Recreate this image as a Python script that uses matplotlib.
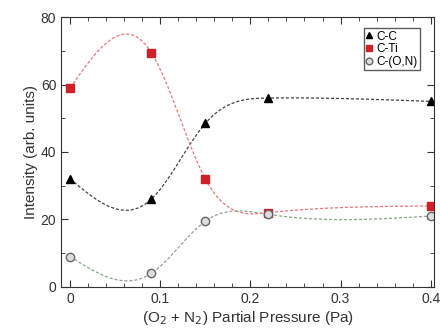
import numpy as np
import matplotlib
matplotlib.use("Agg")
import matplotlib.pyplot as plt
from matplotlib.ticker import MultipleLocator

plt.rcParams['font.family'] = ['Liberation Sans', 'DejaVu Sans']

pressure = [0.0, 0.09, 0.15, 0.22, 0.40]
c_c = [32, 26, 48.5, 56, 55]
c_ti = [59, 69.5, 32, 22, 24]
c_on = [9, 4, 19.5, 21.5, 21]


def natural_spline(x, y, xs):
    x = np.asarray(x, float); y = np.asarray(y, float)
    n = len(x)
    h = np.diff(x)
    A = np.zeros((n, n)); b = np.zeros(n)
    A[0, 0] = 1; A[-1, -1] = 1
    for i in range(1, n - 1):
        A[i, i - 1] = h[i - 1]
        A[i, i] = 2 * (h[i - 1] + h[i])
        A[i, i + 1] = h[i]
        b[i] = 3 * ((y[i + 1] - y[i]) / h[i] - (y[i] - y[i - 1]) / h[i - 1])
    c = np.linalg.solve(A, b)
    out = np.empty_like(xs)
    for k, xv in enumerate(xs):
        i = min(max(np.searchsorted(x, xv) - 1, 0), n - 2)
        dx = xv - x[i]
        bi = (y[i + 1] - y[i]) / h[i] - h[i] * (2 * c[i] + c[i + 1]) / 3
        di = (c[i + 1] - c[i]) / (3 * h[i])
        out[k] = y[i] + bi * dx + c[i] * dx ** 2 + di * dx ** 3
    return out


fig = plt.figure(figsize=(4.4, 3.29), dpi=100)
ax = fig.add_axes([0.139, 0.128, 0.848, 0.82])

xs = np.linspace(pressure[0], pressure[-1], 400)
dash = (0, (2.5, 1.5))
ax.plot(xs, natural_spline(pressure, c_c, xs), ls=dash, color='#444444', lw=0.9)
ax.plot(xs, natural_spline(pressure, c_ti, xs), ls=dash, color='#f07878', lw=0.9)
ax.plot(xs, natural_spline(pressure, c_on, xs), ls=dash, color='#8aa88a', lw=0.9)

ax.plot(pressure, c_c, '^', color='black', ms=6, ls='none', label='C-C')
ax.plot(pressure, c_ti, 's', color='#d0202a', ms=6, ls='none', label='C-Ti')
ax.plot(pressure, c_on, 'o', mfc='#dddddd', mec='#666666', ms=6, ls='none', label='C-(O,N)')

ax.set_xlim(-0.01, 0.404)
ax.set_ylim(0, 80)
ax.xaxis.set_minor_locator(MultipleLocator(0.02))
ax.yaxis.set_major_locator(MultipleLocator(20))
ax.yaxis.set_minor_locator(MultipleLocator(10))
ax.set_xticks([0, 0.1, 0.2, 0.3, 0.4])
ax.set_xticklabels(['0', '0.1', '0.2', '0.3', '0.4'])
ax.tick_params(which='both', direction='in', top=True, right=True, labelsize=10, colors='#333333')
ax.tick_params(which='major', length=5)
ax.tick_params(which='minor', length=3)
for s in ax.spines.values():
    s.set_color('#333333')

ax.set_xlabel('(O$_2$ + N$_2$) Partial Pressure (Pa)', fontsize=11, color='#333333', labelpad=2)
ax.set_ylabel('Intensity (arb. units)', fontsize=11, color='#333333', labelpad=2)

leg = ax.legend(loc='upper right', bbox_to_anchor=(0.962, 0.959), fontsize=8.5, frameon=True,
                fancybox=False, edgecolor='#333333', handlelength=0.6, handletextpad=0.3,
                borderpad=0.2, labelspacing=0.05, markerscale=0.8, borderaxespad=0)
leg.get_frame().set_linewidth(1.0)

fig.savefig('out.png', dpi=100)
